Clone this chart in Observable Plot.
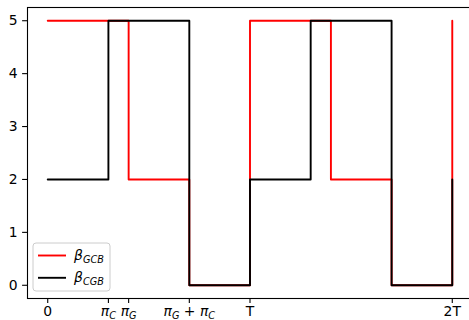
<!DOCTYPE html>
<html><head><meta charset="utf-8">
<script src="https://cdn.jsdelivr.net/npm/d3@7"></script>
<script src="https://cdn.jsdelivr.net/npm/@observablehq/plot@0.6"></script>
<style>body{margin:0;background:#fff;} svg{font-family:"DejaVu Sans",sans-serif;overflow:hidden;}</style>
</head><body><div id="chart"></div>
<script>
const seriesNames = ["β_GCB", "β_CGB"];
const seriesColors = ["red", "black"];
const gcbX = [0, 4, 7, 10, 14, 17, 20];
const gcbY = [5, 2, 0, 5, 2, 0, 5];
const cgbX = [0, 3, 7, 10, 13, 17, 20];
const cgbY = [2, 5, 0, 2, 5, 0, 2];
const xTicks = [0, 3, 4, 7, 10, 20];
const xTickLabels = ["0", "π_C", "π_G", "π_G + π_C", "T", "2T"];
const yTicks = [0, 1, 2, 3, 4, 5];

const data = [
  ...gcbX.map((x, i) => ({series: seriesNames[0], x, y: gcbY[i]})),
  ...cgbX.map((x, i) => ({series: seriesNames[1], x, y: cgbY[i]}))
];

const FS = 13.9;
const plot = Plot.plot({
  width: 469, height: 320,
  marginLeft: 27, marginTop: 7, marginBottom: 22, marginRight: -3,
  style: {fontFamily: "DejaVu Sans", fontSize: FS + "px", color: "black", background: "white"},
  x: {domain: [-1, 21]},
  y: {domain: [-0.25, 5.25]},
  color: {domain: seriesNames, range: seriesColors},
  marks: [
    Plot.line(data, {x: "x", y: "y", z: "series", stroke: "series", curve: "step-after", strokeWidth: 1.9}),
    Plot.frame({stroke: "black", strokeWidth: 1.1}),
    Plot.axisX({ticks: xTicks, tickFormat: d => xTickLabels[xTicks.indexOf(d)], tickSize: 4.9, tickPadding: 2.5, label: null}),
    Plot.axisY({ticks: yTicks, tickFormat: d3.format("d"), tickSize: 4.9, tickPadding: 4.9, label: null})
  ]
});
document.getElementById("chart").appendChild(plot);

const svg = d3.select(plot);
svg.selectAll('[aria-label="x-axis tick"] path, [aria-label="y-axis tick"] path').attr("stroke-width", 1.1);

// render math-like labels with italic symbols and subscripts
function renderMath(sel, str, subSize) {
  sel.text(null);
  const parts = str.split(/([^\s_]+_[A-Z]+)/).filter(p => p.length);
  parts.forEach(p => {
    const m = p.match(/^([^\s_]+)_([A-Z]+)$/);
    if (m) {
      sel.append("tspan").attr("font-style", "italic").text(m[1]);
      sel.append("tspan").attr("font-style", "italic").attr("font-size", subSize)
        .attr("baseline-shift", "-2.5").text(m[2]);
    } else {
      sel.append("tspan").attr("xml:space", "preserve").style("white-space", "pre").text(p);
    }
  });
}
svg.selectAll('[aria-label="x-axis tick label"] text').each(function () {
  const t = d3.select(this);
  const s = t.text();
  if (s.includes("_")) renderMath(t, s, "9.7px");
});

// legend
const lg = svg.append("g").attr("transform", "translate(33,243)");
lg.append("rect").attr("width", 77).attr("height", 48).attr("rx", 3)
  .attr("fill", "white").attr("fill-opacity", 0.8).attr("stroke", "#cccccc").attr("stroke-width", 1);
seriesNames.forEach((name, i) => {
  const y = 12.5 + i * 22.3;
  lg.append("line").attr("x1", 5).attr("x2", 33).attr("y1", y).attr("y2", y)
    .attr("stroke", seriesColors[i]).attr("stroke-width", 1.9);
  const t = lg.append("text").attr("x", 41).attr("y", y + 4.5)
    .attr("text-anchor", "start").attr("font-size", FS).attr("fill", "black");
  renderMath(t, name, "9.7px");
});
</script>
</body></html>
